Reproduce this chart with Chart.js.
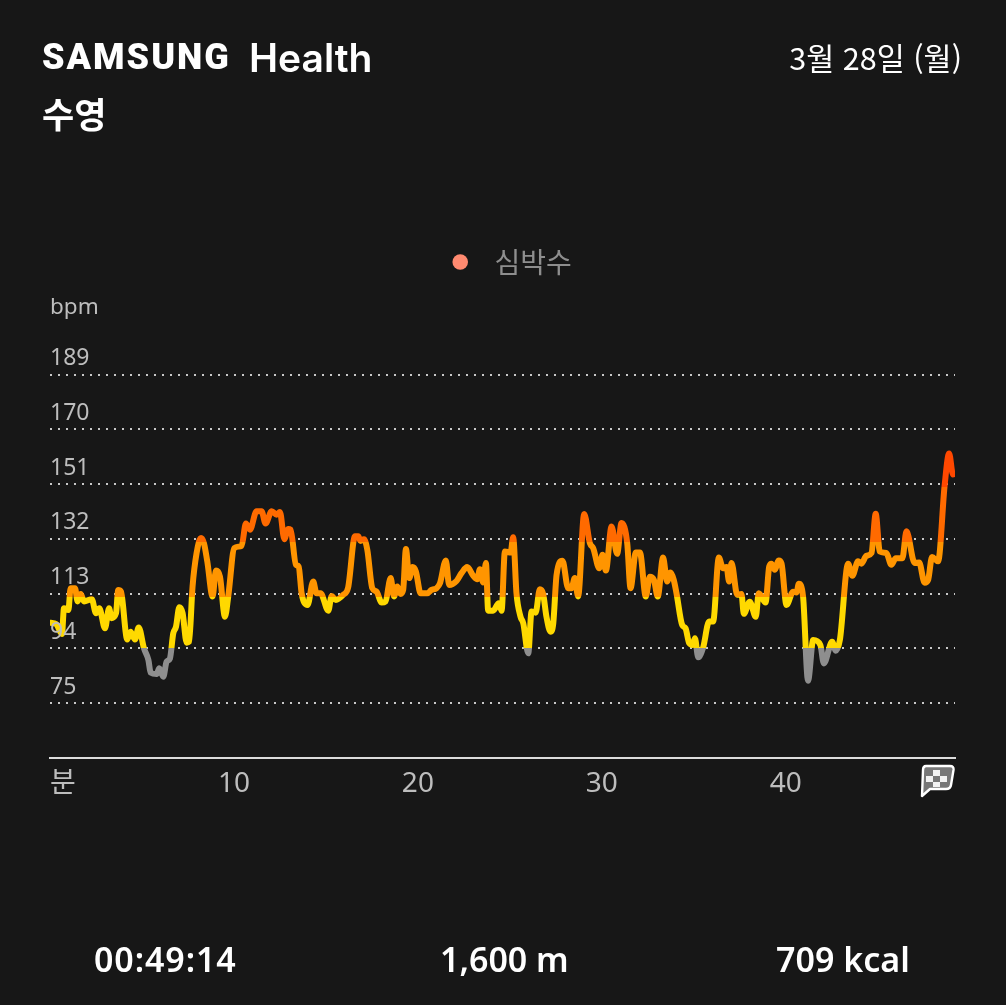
<!DOCTYPE html>
<html lang="ko">
<head>
<meta charset="utf-8">
<title>Samsung Health 수영</title>
<script src="https://cdn.jsdelivr.net/npm/chart.js@4"></script>
<style>
html,body{margin:0;padding:0;background:#171717;}
#page{position:relative;width:1006px;height:1005px;overflow:hidden;background:#171717;color:#fff;font-family:"Noto Sans","Noto Sans CJK KR",sans-serif;}
#page canvas{position:absolute;left:0;top:0;}
.txt{position:absolute;white-space:nowrap;line-height:1;}
#brand{left:42px;top:39px;font-family:"Roboto",sans-serif;font-size:36px;font-weight:900;letter-spacing:2px;}
#health{left:249px;top:38px;font-family:"Inter",sans-serif;font-size:39px;font-weight:600;}
#sport{left:42px;top:95px;font-family:"Noto Sans CJK KR";font-size:35px;font-weight:700;}
#date{right:44px;top:42px;font-family:"Noto Sans CJK KR";font-size:30.5px;}
#bpm{left:50px;top:295px;font-size:22.5px;color:#bdbdbd;}
.stat{top:942px;font-size:34px;font-weight:600;}
#flag{position:absolute;left:919px;top:764px;}
</style>
</head>
<body>
<div id="page">
<canvas id="hrChart" width="1006" height="1005"></canvas>
<div class="txt" id="brand">SAMSUNG</div>
<div class="txt" id="health">Health</div>
<div class="txt" id="sport">수영</div>
<div class="txt" id="date">3월 28일 (월)</div>
<div class="txt" id="bpm">bpm</div>
<div class="txt stat" style="left:94px;letter-spacing:.9px">00:49:14</div>
<div class="txt stat" style="left:440px">1,600 m</div>
<div class="txt stat" style="left:776px">709 kcal</div>
<svg id="flag" width="36" height="34" viewBox="0 0 36 34">
<path d="M7 2 H31 Q35 2 34.5 6 L32 21 Q31.5 25 27 25 H11 L3 32 L4 6 Q4 2 7 2 Z" fill="#777" stroke="#fff" stroke-width="2.4" stroke-linejoin="round"/>
<path d="M14 6h7v6h-7z M7 12h7v6H7z M21 12h7v6h-7z M14 18h7v5h-7z" fill="#f2f2f2"/>
</svg>
</div>

<script>
/* =========================
   DATA
========================= */

let minutes = [
0.04,0.33,0.65,0.76,1.00,1.12,1.36,1.50,1.67,1.85,2.27,2.50,2.68,2.99,3.21,3.35,3.59,3.71,3.86,4.20,
4.38,4.62,4.82,5.11,5.35,5.47,5.80,5.94,6.16,6.34,6.52,6.70,6.85,7.03,7.21,7.43,7.56,7.75,7.97,8.21,
8.37,8.55,8.84,9.02,9.24,9.51,9.69,10.02,10.42,10.65,10.87,11.23,11.50,11.72,12.05,12.32,12.50,12.74,12.95,13.08,
13.37,13.52,13.68,14.00,14.31,14.49,14.71,15.13,15.31,15.54,15.94,16.21,16.58,16.76,16.88,17.07,17.25,17.52,17.75,18.03,
18.24,18.52,18.70,18.88,19.06,19.20,19.35,19.53,19.71,19.89,20.15,20.51,20.74,21.01,21.20,21.52,21.70,22.10,22.37,22.68,
23.01,23.23,23.37,23.55,23.70,23.82,24.09,24.40,24.55,24.73,25.04,25.18,25.36,25.58,25.73,26.00,26.18,26.40,26.63,26.81,
26.99,27.21,27.36,27.54,27.86,28.17,28.35,28.53,28.71,29.04,29.35,29.53,29.86,30.04,30.22,30.53,30.83,31.07,31.38,31.56,
31.85,32.07,32.39,32.61,32.83,33.04,33.33,33.55,33.73,33.91,34.06,34.37,34.55,34.75,34.93,35.06,35.24,35.51,35.83,36.05,
36.36,36.59,36.78,36.92,37.05,37.36,37.59,37.72,38.04,38.37,38.53,38.90,39.10,39.22,39.40,39.62,39.77,40.04,40.40,40.58,
40.71,40.94,41.21,41.49,41.88,42.07,42.52,42.72,42.94,43.39,43.62,43.93,44.11,44.38,44.66,44.89,45.11,45.47,45.74,45.98,
46.34,46.56,47.01,47.25,47.55,47.74,47.95,48.28,48.64,48.88,49.09,49.18
]

let heartRate = [
102.9,102.5,99.0,107.9,107.3,114.9,114.9,110.3,112.9,110.3,111.1,106.2,107.9,101.0,107.9,104.5,106.2,114.3,113.7,97.1,
99.8,97.1,101.3,94.0,90.0,85.6,85.1,87.1,84.2,89.4,90.5,99.2,101.5,108.3,106.2,96.0,96.3,115.5,127.1,132.3,
130.5,124.2,112.0,121.0,118.9,105.0,112.0,128.8,129.6,137.3,135.2,141.6,141.6,137.3,141.6,140.4,141.3,131.9,135.4,135.2,
123.0,122.4,113.1,109.1,117.2,113.1,113.1,107.1,112.2,110.8,112.6,115.2,132.9,132.9,131.3,131.9,128.2,114.9,113.7,109.9,
110.3,118.4,112.0,115.5,112.9,114.3,128.5,118.4,122.2,120.7,113.1,113.1,114.3,114.9,116.6,124.5,116.0,117.4,120.1,122.2,
119.2,118.0,121.5,116.9,123.6,107.1,107.1,109.7,107.1,127.6,127.3,132.6,113.1,105.0,102.7,92.3,106.8,106.4,114.5,112.9,
105.0,99.8,102.7,119.5,124.4,114.9,114.9,118.4,112.0,140.6,130.5,128.8,121.8,126.5,121.0,136.3,126.8,137.5,130.5,114.9,
127.3,127.3,112.0,118.9,117.8,112.0,125.5,117.2,120.3,117.8,113.1,102.1,101.0,95.8,95.2,97.5,90.9,94.4,103.3,103.3,
125.5,121.8,122.2,117.2,123.6,112.6,112.9,106.0,110.2,105.0,113.1,109.9,122.4,123.4,121.3,124.5,123.4,109.1,113.7,113.4,
116.4,112.0,82.8,96.9,95.2,88.8,96.3,93.2,96.9,123.4,119.2,124.2,123.4,126.1,127.1,140.7,127.6,127.1,123.0,125.3,
125.3,134.6,123.6,123.8,116.8,117.8,125.7,124.2,150.8,161.6,154.3,154.5
]

let yTicks = [75,94,113,132,151,170,189]
let xTicks = [0,10,20,30,40,49.2]
let xLabels = ["분","10","20","30","40",""]

/* heart rate zones, top to bottom */
let zoneLimits = [150,131,112,94]
let zoneColors = ["#ff4800","#ff6a00","#ff9500","#ffd900","#8e8e8e"]

let legendName = "심박수"
let legendColor = "#ff8a70"


/* =========================
   ZONE COLOURED LINE
========================= */

function zoneGradient(context){

let chart = context.chart
let area = chart.chartArea

if(!area){
return zoneColors[2]
}

let y = chart.scales.y
let grad = chart.ctx.createLinearGradient(0,area.top,0,area.bottom)
let prev = 0

for(let i=0;i<zoneColors.length;i++){
let end = i<zoneLimits.length ? (y.getPixelForValue(zoneLimits[i])-area.top)/area.height : 1
grad.addColorStop(prev,zoneColors[i])
grad.addColorStop(end,zoneColors[i])
prev = end
}

return grad

}

/* legend sits a little right of the plot centre */
let legendNudge = {
id:"legendNudge",
afterLayout(chart){
chart.legend.left += 6.5
chart.legend.right += 6.5
}
}


/* =========================
   CHART
========================= */

let points = minutes.map((m,i)=>({x:m,y:heartRate[i]}))

new Chart(document.getElementById("hrChart"),{
type:"line",
plugins:[legendNudge],
data:{
datasets:[{
label:legendName,
data:points,
borderColor:zoneGradient,
borderWidth:6,
borderCapStyle:"round",
borderJoinStyle:"round",
cubicInterpolationMode:"monotone",
pointRadius:0,
fill:false
}]
},
options:{
responsive:false,
animation:false,
layout:{
padding:{top:202,left:50,right:51,bottom:200}
},
plugins:{
tooltip:{enabled:false},
legend:{
position:"top",
labels:{
color:"#8e8e8e",
font:{size:28,family:"'Noto Sans CJK KR'"},
usePointStyle:true,
boxHeight:11,
padding:46,
generateLabels:()=>[{
text:" "+legendName,
fontColor:"#8e8e8e",
fillStyle:legendColor,
strokeStyle:legendColor,
lineWidth:0,
pointStyle:"circle",
datasetIndex:0
}]
}
}
},
scales:{
x:{
type:"linear",
min:0,
max:49.2,
afterBuildTicks:s=>{s.ticks = xTicks.map(v=>({value:v}))},
afterFit:s=>{s.height = 47},
grid:{display:false},
border:{display:true,color:"#dcdcdc",width:2},
ticks:{
color:"#bdbdbd",
font:{size:28,family:"'Noto Sans','Noto Sans CJK KR'"},
maxRotation:0,
autoSkip:false,
align:"inner",
padding:1,
callback:(v,i)=>xLabels[i]
}
},
y:{
min:56,
max:219.7,
afterBuildTicks:s=>{s.ticks = yTicks.map(v=>({value:v}))},
grid:{color:"#c8c8c8",lineWidth:2,drawTicks:false},
border:{display:false,dash:[2,6]},
ticks:{
mirror:true,
padding:0,
labelOffset:-16,
z:1,
color:"#bdbdbd",
font:{size:23,family:"'Noto Sans'"},
autoSkip:false
}
}
}
}
})
</script>
</body>
</html>
